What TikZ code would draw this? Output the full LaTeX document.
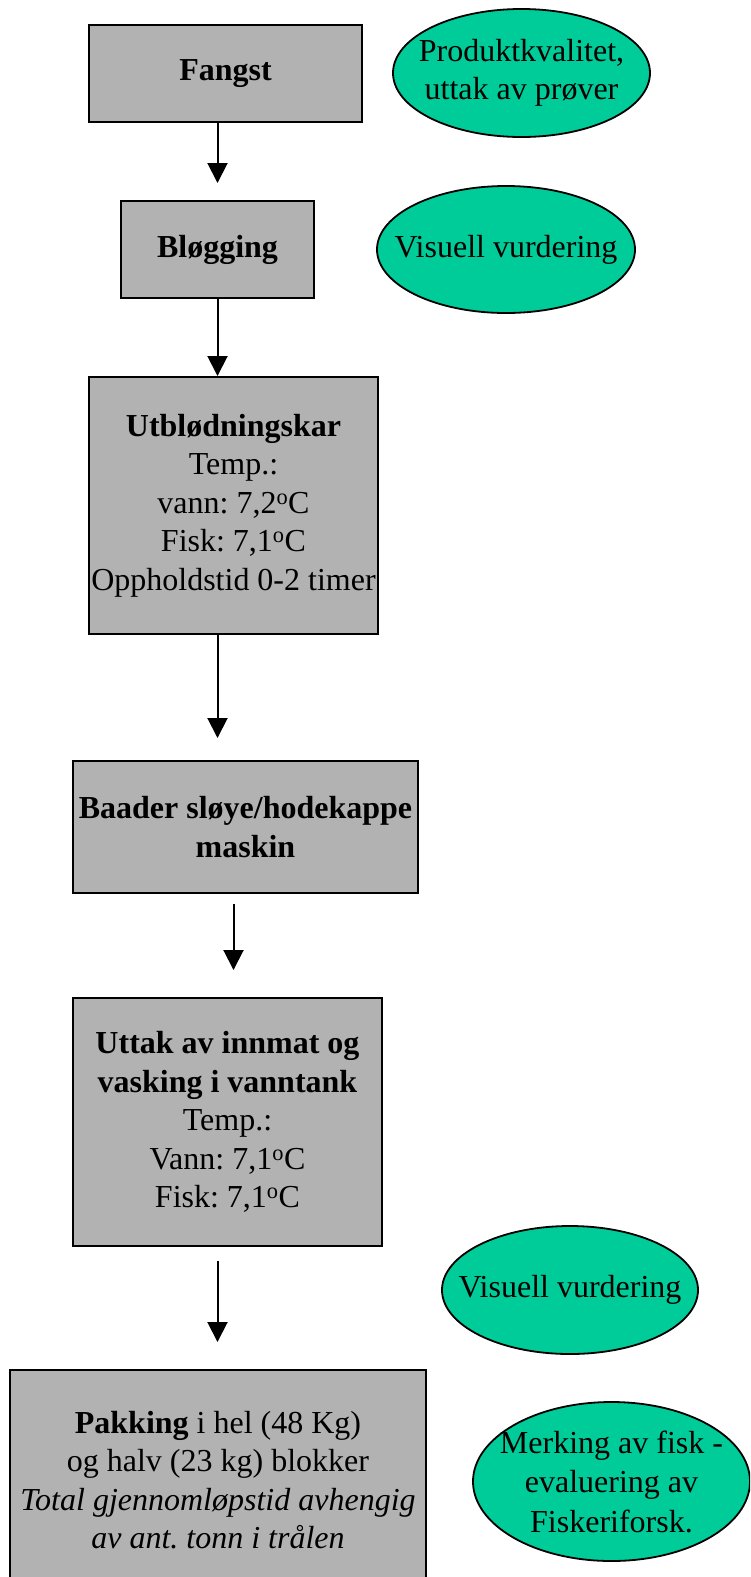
\documentclass[tikz,border=0pt]{standalone}
\usepackage{fontspec}
\setmainfont{Liberation Serif}
\usetikzlibrary{shapes.geometric,arrows.meta}

\definecolor{boxgray}{HTML}{B2B2B2}
\definecolor{checkgreen}{HTML}{00CC99}

\frenchspacing

\begin{document}
\begin{tikzpicture}[x=1pt, y=-1pt,
  every node/.style={font=\fontsize{32}{38.5}\selectfont},
  stepbox/.style={draw, line width=2pt, fill=boxgray, align=center, inner sep=0pt},
  check/.style={ellipse, draw, line width=1.8pt, fill=checkgreen, inner sep=0pt},
  flow/.style={line width=2pt, -{Triangle[width=20pt,length=20pt]}}]

  \clip (0,0) rectangle (750,1577);

  % Draw the process steps
  \node[stepbox, minimum width=273pt, minimum height=97pt] (fangst) at (225.5,73.5) {\textbf{Fangst}};
  \node[stepbox, minimum width=193pt, minimum height=97pt] (blogging) at (217.5,249.5) {\textbf{Bløgging}};
  \node[stepbox, minimum width=289pt, minimum height=257pt] (utblod) at (233.5,505.5)
    {\textbf{Utblødningskar}\\Temp.:\\vann: 7,2\textsuperscript{o}C\\Fisk: 7,1\textsuperscript{o}C\\Oppholdstid 0-2 timer};
  \node[stepbox, minimum width=345pt, minimum height=132pt] (baader) at (245.5,827)
    {\textbf{Baader sløye/hodekappe}\\\textbf{maskin}};
  \node[stepbox, minimum width=309pt, minimum height=248pt] (uttak) at (227.5,1122)
    {\textbf{Uttak av innmat og}\\\textbf{vasking i vanntank}\\Temp.:\\Vann: 7,1\textsuperscript{o}C\\Fisk: 7,1\textsuperscript{o}C};
  \node[stepbox, minimum width=416pt, minimum height=220pt] (pakking) at (218,1480)
    {\textbf{Pakking} i hel (48 Kg)\\og halv (23 kg) blokker\\\textit{Total gjennomløpstid avhengig}\\\textit{av ant. tonn i trålen}};

  % Draw the checks
  \node[check, minimum width=257pt, minimum height=128pt,
    label={[align=center]center:{Produktkvalitet,\\uttak av prøver}}] (kvalitet) at (521.5,73) {};
  \node[check, minimum width=258pt, minimum height=127pt,
    label={center:{Visuell vurdering}}] (visuell1) at (506,249.5) {};
  \node[check, minimum width=256pt, minimum height=128pt,
    label={center:{Visuell vurdering}}] (visuell2) at (570,1290) {};
  \node[check, minimum width=277pt, minimum height=159pt,
    label={[align=center, font=\fontsize{32}{39.5}\selectfont]center:{Merking av fisk -\\evaluering av\\Fiskeriforsk.}}] (merking) at (611.5,1481.5) {};

  % Draw the arrows
  \draw[flow, shorten >=17pt] (fangst.south -| blogging.north) -- (blogging.north);
  \draw[flow] (blogging.south) -- (blogging.south |- utblod.north);
  \draw[flow, shorten >=22pt] (utblod.south -| blogging.south) -- (baader.north -| blogging.south);
  \draw[flow, shorten <=10pt, shorten >=27pt] (baader.south -| utblod.south) -- (uttak.north -| utblod.south);
  \draw[flow, shorten <=14pt, shorten >=27pt] (uttak.south -| blogging.south) -- (pakking.north -| blogging.south);

\end{tikzpicture}
\end{document}
